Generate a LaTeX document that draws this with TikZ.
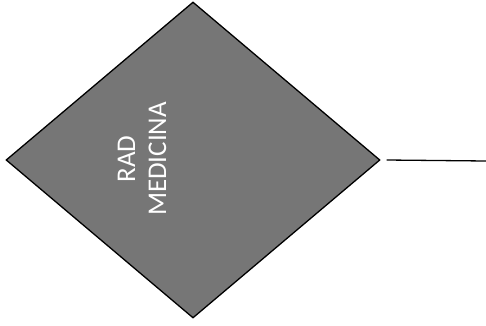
\documentclass[tikz,border=0pt]{standalone}
\usepackage{fontspec}
\setmainfont{Carlito}
\usetikzlibrary{shapes.geometric}
\definecolor{dgray}{RGB}{118,118,118}
\tikzset{
  decision/.style={diamond, draw=black, line width=1.3pt, fill=dgray, inner sep=0pt, minimum width=374pt, minimum height=316pt},
  label/.style={text=white, rotate=90, align=center, font=\fontsize{27pt}{31pt}\selectfont},
  conn/.style={draw=black, line width=1.3pt}
}
\begin{document}
\begin{tikzpicture}[x=1pt,y=1pt]
\useasboundingbox (0,0) rectangle (486,325);
\node[decision] (d) at (193,165) {};
\node[label] (t) at (142,166) {RAD\\MEDICINA};
\coordinate (e) at (486,164);
\draw[conn] ([xshift=6pt]d.east) -- (e);
\end{tikzpicture}
\end{document}
